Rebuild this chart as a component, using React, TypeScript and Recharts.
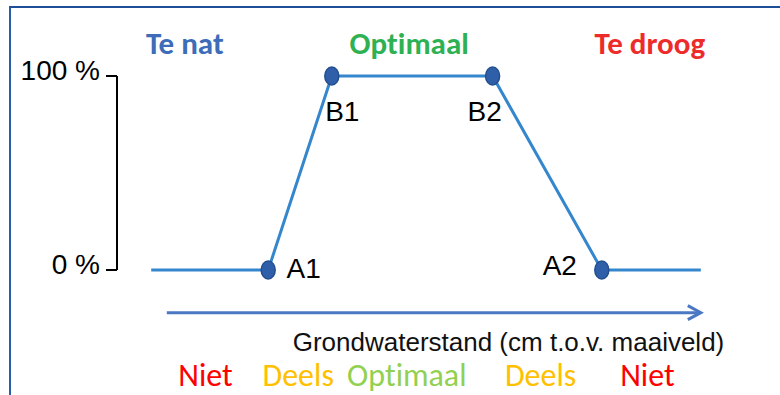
import React from 'react';
import {
  LineChart,
  Line,
  XAxis,
  YAxis,
  ReferenceDot,
  ReferenceLine,
  LabelList,
} from 'recharts';

// ---- data ----
const groundwater = [5.7, 25.2, 35.8, 62.6, 80.8, 97.3];
const yieldPct = [0, 0, 100, 100, 0, 0];
const pointNames = ['', 'A1', 'B1', 'B2', 'A2', ''];
const yTicks = [0, 100];
const zoneTitles = ['Te nat', 'Optimaal', 'Te droog'];
const suitability = ['Niet', 'Deels', 'Optimaal', 'Deels', 'Niet'];
const axisTitle = 'Grondwaterstand (cm t.o.v. maaiveld)';

const data = groundwater.map((g, i) => ({ g, pct: yieldPct[i], name: pointNames[i] }));

// ---- layout / styling ----
const W = 780;
const H = 395;
const SANS = '"Liberation Sans", Arial, sans-serif';
const CAL = 'Carlito, Lato, "Open Sans", sans-serif';
const zoneTitleAnchors = [
  { x: 11.3, y: 116.5, color: '#3d6cb9' },
  { x: 48.7, y: 116.5, color: '#2eb153' },
  { x: 88.8, y: 116.5, color: '#ee2b2b' },
];
const suitAnchors = [
  { x: 14.75, color: '#ff0000' },
  { x: 30.2, color: '#ffc000' },
  { x: 48.3, color: '#92d050' },
  { x: 70.6, color: '#ffc000' },
  { x: 88.4, color: '#ff0000' },
];
const suitY = -54.3;
const axisTitleAnchor = { x: 65.25, y: -37.5 };
const arrowY = -22;
const arrowX = [8.3, 97.3];
const labelOffsets: Record<string, [number, number]> = {
  A1: [35.5, -1.5],
  B1: [10.5, 35],
  B2: [-8, 35],
  A2: [-42, -5],
};

const centerText = (
  text: string,
  fill: string,
  fontSize: number,
  fontFamily: string,
  fontWeight: number | string = 'normal',
) => (props: any) => {
  const vb = props.viewBox || {};
  const cx = (vb.x ?? 0) + (vb.width ?? 0) / 2;
  const cy = (vb.y ?? 0) + (vb.height ?? 0) / 2;
  return (
    <text
      x={cx}
      y={cy + fontSize * 0.33}
      textAnchor="middle"
      fill={fill}
      fontSize={fontSize}
      fontFamily={fontFamily}
      fontWeight={fontWeight}
      style={{ fontVariantLigatures: 'none', fontFeatureSettings: '"liga" 0, "clig" 0' }}
    >
      {text}
    </text>
  );
};

const YTick = (props: any) => {
  const { x, y, payload } = props;
  return (
    <text
      x={x}
      y={y + 4}
      textAnchor="end"
      fill="#000"
      fontSize={28}
      fontFamily={SANS}
    >
      {`${payload.value} %`}
    </text>
  );
};

const PointDot = (props: any) => {
  const { cx, cy, payload, index } = props;
  if (!payload || !payload.name) return <g key={`d${index}`} />;
  return (
    <ellipse
      key={`d${index}`}
      cx={cx}
      cy={cy}
      rx={7}
      ry={9}
      fill="#2f5fa8"
      stroke="#244f8f"
      strokeWidth={1.5}
    />
  );
};

const PointLabel = (props: any) => {
  const { x, y, value } = props;
  if (!value) return null;
  const off = labelOffsets[value] || [0, 0];
  return (
    <text
      x={x + off[0]}
      y={y + off[1] + 28 * 0.355}
      textAnchor="middle"
      fill="#000"
      fontSize={28}
      fontFamily={SANS}
    >
      {value}
    </text>
  );
};

const ArrowShape = (props: any) => {
  const { x1, y1, x2, y2 } = props;
  const c = '#4a78c2';
  return (
    <g>
      <line x1={x1} y1={y1} x2={x2 - 2} y2={y2} stroke={c} strokeWidth={3} />
      <polyline
        points={`${x2 - 13},${y2 - 7} ${x2},${y2} ${x2 - 13},${y2 + 7}`}
        fill="none"
        stroke={c}
        strokeWidth={3}
        strokeLinejoin="miter"
      />
    </g>
  );
};

export default function App() {
  return (
    <div
      style={{
        position: 'absolute',
        left: 0,
        top: 0,
        width: W,
        height: H,
        overflow: 'hidden',
        background: '#fff',
      }}
    >
      <div
        style={{
          position: 'absolute',
          left: 9,
          top: 6,
          width: W,
          height: H,
          borderTop: '2px solid #1f4e99',
          borderLeft: '2px solid #2a5caa',
          boxSizing: 'border-box',
        }}
      />
      <LineChart
        width={W}
        height={H}
        data={data}
        margin={{ top: 76, right: 63, bottom: 125, left: 0 }}
        style={{ position: 'absolute', left: 0, top: 0 }}
      >
        <XAxis dataKey="g" type="number" domain={[0, 100]} hide />
        <YAxis
          type="number"
          domain={[0, 100]}
          ticks={yTicks}
          width={117}
          axisLine={{ stroke: '#000', strokeWidth: 2 }}
          tickLine={{ stroke: '#000', strokeWidth: 2 }}
          tickSize={11}
          tickMargin={6}
          tick={<YTick />}
          interval={0}
        />
        <ReferenceLine
          segment={[
            { x: arrowX[0], y: arrowY },
            { x: arrowX[1], y: arrowY },
          ]}
          ifOverflow="visible"
          shape={<ArrowShape />}
        />
        {zoneTitles.map((t, i) => (
          <ReferenceDot
            key={`zt${i}`}
            x={zoneTitleAnchors[i].x}
            y={zoneTitleAnchors[i].y}
            r={0}
            fill="none"
            stroke="none"
            ifOverflow="visible"
            label={{ content: centerText(t, zoneTitleAnchors[i].color, 31, CAL, 'bold') }}
          />
        ))}
        {suitability.map((t, i) => (
          <ReferenceDot
            key={`su${i}`}
            x={suitAnchors[i].x}
            y={suitY}
            r={0}
            fill="none"
            stroke="none"
            ifOverflow="visible"
            label={{ content: centerText(t, suitAnchors[i].color, 32, CAL) }}
          />
        ))}
        <ReferenceDot
          x={axisTitleAnchor.x}
          y={axisTitleAnchor.y}
          r={0}
          fill="none"
          stroke="none"
          ifOverflow="visible"
          label={{ content: centerText(axisTitle, '#111', 26, SANS) }}
        />
        <Line
          type="linear"
          dataKey="pct"
          stroke="#3486cd"
          strokeWidth={3}
          dot={<PointDot />}
          activeDot={false}
          isAnimationActive={false}
        >
          <LabelList dataKey="name" content={<PointLabel />} />
        </Line>
      </LineChart>
    </div>
  );
}
